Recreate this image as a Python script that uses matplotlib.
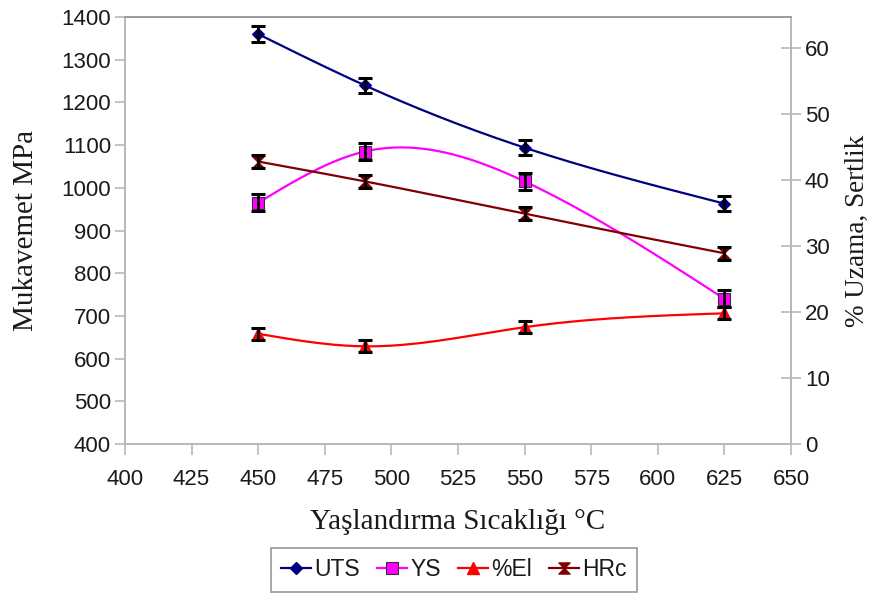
import numpy as np
import matplotlib.pyplot as plt
from matplotlib.path import Path

# ── data ──────────────────────────────────────────────
sicaklik = [450, 490, 550, 625]
uts = [1360, 1240, 1094, 963]
ys = [965, 1085, 1015, 740]
uzama = [16.7, 14.8, 17.7, 19.8]
hrc = [42.8, 39.8, 34.9, 28.9]

uts_err = [18, 18, 18, 18]
ys_err = [20, 20, 20, 20]
uzama_err = [0.9, 0.9, 0.9, 0.9]
hrc_err = [1.0, 1.0, 1.0, 1.0]


def spline(x, y, n=200):
    # natural cubic spline, just for the smooth look of the lines
    x = np.asarray(x, float)
    y = np.asarray(y, float)
    k = len(x)
    h = np.diff(x)
    A = np.zeros((k, k))
    b = np.zeros(k)
    A[0, 0] = A[-1, -1] = 1
    for i in range(1, k - 1):
        A[i, i - 1] = h[i - 1]
        A[i, i] = 2 * (h[i - 1] + h[i])
        A[i, i + 1] = h[i]
        b[i] = 6 * ((y[i + 1] - y[i]) / h[i] - (y[i] - y[i - 1]) / h[i - 1])
    M = np.linalg.solve(A, b)
    xs = np.linspace(x[0], x[-1], n)
    ys_ = np.empty_like(xs)
    for j, t in enumerate(xs):
        i = min(np.searchsorted(x, t, side="right") - 1, k - 2)
        a, c = x[i + 1] - t, t - x[i]
        ys_[j] = (M[i] * a ** 3 + M[i + 1] * c ** 3) / (6 * h[i]) \
            + (y[i] / h[i] - M[i] * h[i] / 6) * a \
            + (y[i + 1] / h[i] - M[i + 1] * h[i] / 6) * c
    return xs, ys_


hourglass = Path([(-1, 1), (1, 1), (-1, -1), (1, -1), (-1, 1)],
                 [Path.MOVETO, Path.LINETO, Path.LINETO, Path.LINETO, Path.CLOSEPOLY])

text_col = "#1a1a1a"
spine_col = "#b8b8b8"
serif = ["Liberation Serif", "DejaVu Serif"]
sans = ["Liberation Sans", "DejaVu Sans"]
plt.rcParams["font.family"] = sans

fig = plt.figure(figsize=(8.72, 6.05), dpi=100)
ax = fig.add_axes([0.1433, 0.2661, 0.7638, 0.7058])
ax2 = ax.twinx()

eb = dict(fmt="none", ecolor="black", elinewidth=2.0, capsize=5, capthick=2.2, zorder=5)

# left axis: UTS, YS
for vals, err, col, mk, ms in [(uts, uts_err, "#000080", "D", 6),
                               (ys, ys_err, "#ff00ff", "s", 8)]:
    xs, yy = spline(sicaklik, vals)
    ax.plot(xs, yy, color=col, lw=1.6, zorder=3)
    ax.plot(sicaklik, vals, ls="none", marker=mk, ms=ms, color=col,
            mec="#333333" if mk == "s" else col, mew=0.8, zorder=4)
    ax.errorbar(sicaklik, vals, yerr=err, **eb)

# right axis: %El, HRc
for vals, err, col, mk, ms in [(uzama, uzama_err, "#ff0000", "^", 8),
                               (hrc, hrc_err, "#800000", hourglass, 8)]:
    xs, yy = spline(sicaklik, vals)
    ax2.plot(xs, yy, color=col, lw=1.6, zorder=3)
    ax2.plot(sicaklik, vals, ls="none", marker=mk, ms=ms, color=col, zorder=4)
    ax2.errorbar(sicaklik, vals, yerr=err, **eb)

ax.set_xlim(400, 650)
ax.set_ylim(400, 1400)
ax2.set_ylim(0, 64.7)
ax.set_xticks(range(400, 651, 25))
ax.set_yticks(range(400, 1401, 100))
ax2.set_yticks(range(0, 61, 10))

for a in (ax, ax2):
    for s in a.spines.values():
        s.set_color(spine_col)
        s.set_linewidth(1.2)
    a.spines["top"].set_color("#999999")
ax.tick_params(axis="y", colors=spine_col, labelcolor=text_col, labelsize=16,
               length=7, width=1.2, direction="out", pad=3)
ax.tick_params(axis="x", colors=spine_col, labelcolor=text_col, labelsize=16,
               length=8, width=1.2, direction="out", pad=10)
ax2.tick_params(axis="y", colors=spine_col, labelcolor=text_col, labelsize=16,
                length=14, width=1.2, direction="inout", pad=3)

ax.set_xlabel("Yaşlandırma Sıcaklığı °C", family=serif, fontsize=21,
              color=text_col, labelpad=14)
ax.set_ylabel("Mukavemet MPa", family=serif, fontsize=21, color=text_col, labelpad=16)
ax2.set_ylabel("% Uzama, Sertlik", family=serif, fontsize=19.5, color=text_col, labelpad=11)

# legend
handles = [
    plt.Line2D([], [], color="#000080", marker="D", ms=6, lw=1.6),
    plt.Line2D([], [], color="#ff00ff", marker="s", ms=8, mec="#333333", mew=0.8, lw=1.6),
    plt.Line2D([], [], color="#ff0000", marker="^", ms=8, lw=1.6),
    plt.Line2D([], [], color="#800000", marker=hourglass, ms=8, lw=1.6),
]
leg = fig.legend(handles, ["UTS", "YS", "%El", "HRc"], loc="center",
                 bbox_to_anchor=(454 / 872, 1 - 570 / 605), ncol=4, fontsize=16.5,
                 frameon=True, fancybox=False, edgecolor="#7f7f7f",
                 handlelength=1.3, handletextpad=0.15, columnspacing=0.75,
                 borderpad=0.45, borderaxespad=0)
leg.get_frame().set_linewidth(1.2)
for t in leg.get_texts():
    t.set_color(text_col)

fig.savefig("out.png", dpi=100)
